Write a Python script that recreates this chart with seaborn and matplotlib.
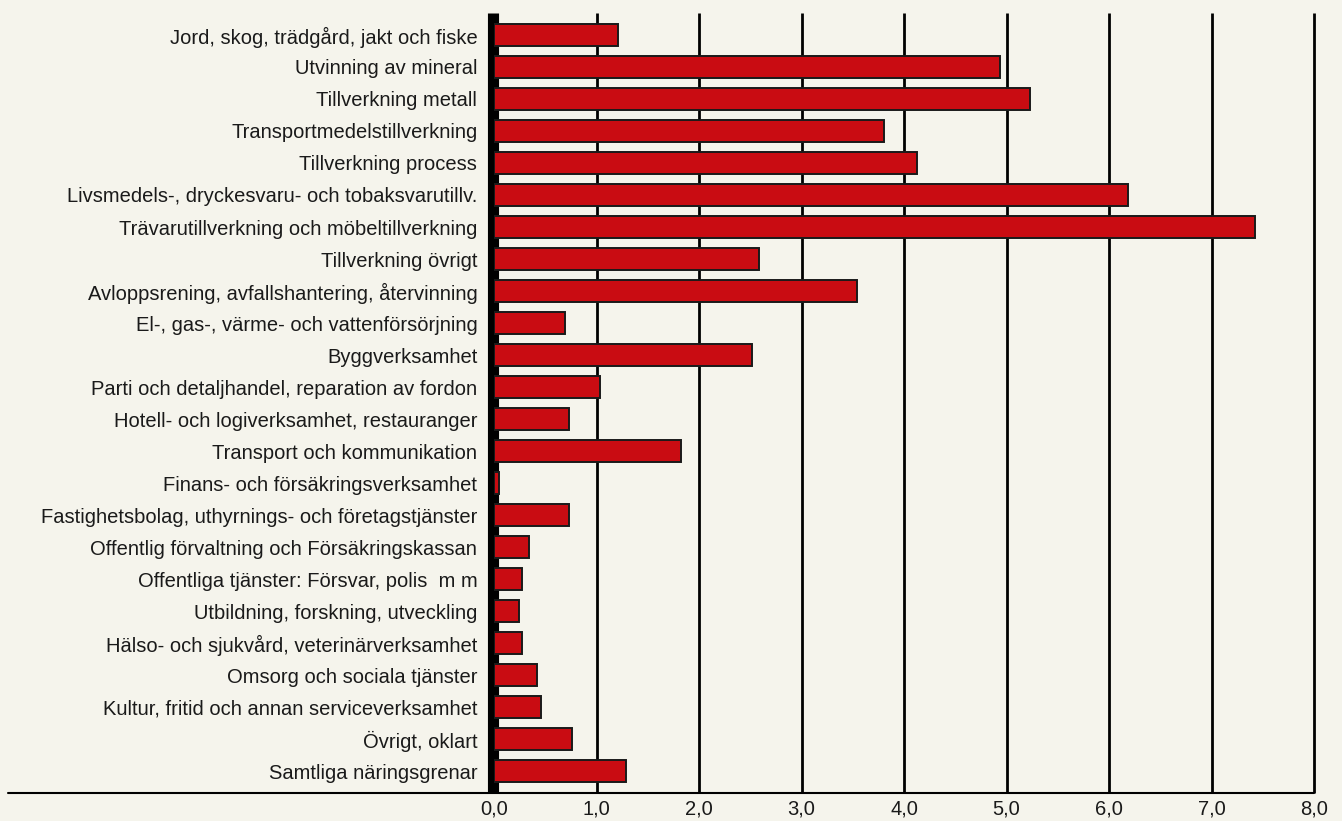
import matplotlib.pyplot as plt
import pandas as pd
import seaborn as sns
from matplotlib.lines import Line2D

# branch names and values
branches = [
    "Jord, skog, trädgård, jakt och fiske",
    "Utvinning av mineral",
    "Tillverkning metall",
    "Transportmedelstillverkning",
    "Tillverkning process",
    "Livsmedels-, dryckesvaru- och tobaksvarutillv.",
    "Trävarutillverkning och möbeltillverkning",
    "Tillverkning övrigt",
    "Avloppsrening, avfallshantering, återvinning",
    "El-, gas-, värme- och vattenförsörjning",
    "Byggverksamhet",
    "Parti och detaljhandel, reparation av fordon",
    "Hotell- och logiverksamhet, restauranger",
    "Transport och kommunikation",
    "Finans- och försäkringsverksamhet",
    "Fastighetsbolag, uthyrnings- och företagstjänster",
    "Offentlig förvaltning och Försäkringskassan",
    "Offentliga tjänster: Försvar, polis  m m",
    "Utbildning, forskning, utveckling",
    "Hälso- och sjukvård, veterinärverksamhet",
    "Omsorg och sociala tjänster",
    "Kultur, fritid och annan serviceverksamhet",
    "Övrigt, oklart",
    "Samtliga näringsgrenar",
]
values = [1.21, 4.94, 5.23, 3.80, 4.13, 6.19, 7.42, 2.59, 3.54, 0.69, 2.52, 1.03,
          0.73, 1.82, 0.05, 0.73, 0.34, 0.27, 0.24, 0.27, 0.42, 0.46, 0.76, 1.29]
xticks = [0, 1, 2, 3, 4, 5, 6, 7, 8]
xtick_labels = ["0,0", "1,0", "2,0", "3,0", "4,0", "5,0", "6,0", "7,0", "8,0"]

df = pd.DataFrame({"branch": branches, "value": values})

bg = "#f5f4ec"
sns.set_theme(style="white")
plt.rcParams["font.family"] = ["Liberation Sans", "DejaVu Sans"]

fig = plt.figure(figsize=(13.42, 8.21), dpi=100, facecolor=bg)
ax = fig.add_axes([494 / 1342, 1 - 793 / 821, (1314 - 494) / 1342, (793 - 13) / 821])
ax.set_facecolor(bg)

# vertical grid lines and the thick zero line
for x in xticks[1:]:
    ax.axvline(x, color="black", lw=2, zorder=1, clip_on=False, solid_capstyle="butt")
ax.axvline(-0.005, color="black", lw=8, zorder=1, clip_on=False, solid_capstyle="butt")

sns.barplot(data=df, x="value", y="branch", orient="h", color="#c90c12",
            saturation=1, width=0.66, edgecolor="#1a1a1a", linewidth=1.4,
            ax=ax, zorder=2)

ax.set_xlim(0, 8)
ax.set_ylim(23 + 22 / 32, -22 / 32)
ax.set_xticks(xticks)
ax.set_xticklabels(xtick_labels, fontsize=14.5)
ax.tick_params(axis="y", labelsize=14.5, pad=12, length=0, colors="#1a1a1a")
ax.tick_params(axis="x", pad=5, length=0, colors="#1a1a1a")
ax.set_xlabel("")
ax.set_ylabel("")
for side in ["top", "right", "left", "bottom"]:
    ax.spines[side].set_visible(False)

# axis line running under the labels
fig.add_artist(Line2D([8 / 1342, 1314 / 1342], [1 - 793 / 821, 1 - 793 / 821],
                      color="black", lw=1.5, transform=fig.transFigure))

fig.savefig("out.png", dpi=100, facecolor=bg)
